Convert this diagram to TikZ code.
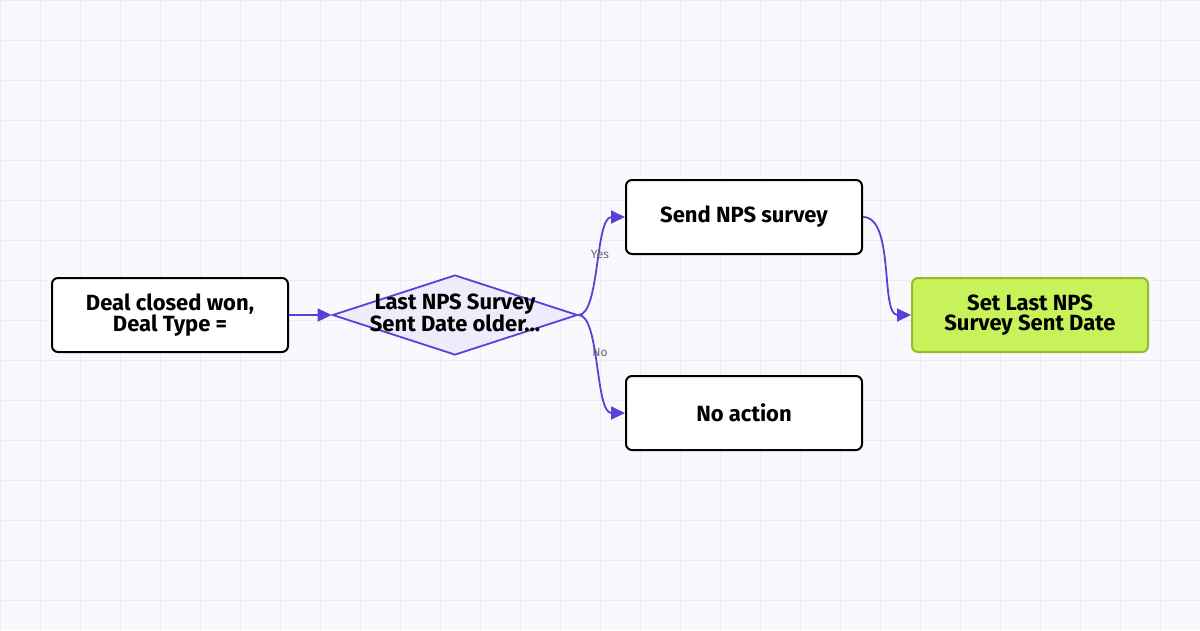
\documentclass[tikz,border=0pt]{standalone}
\usepackage{fontspec}
\setmainfont{Fira Sans}
\usetikzlibrary{shapes.geometric,arrows.meta}
\definecolor{bg}{HTML}{F9F9FD}
\definecolor{gridc}{HTML}{ECEBF8}
\definecolor{purp}{HTML}{5B3FD9}
\definecolor{dfill}{HTML}{EEEBFB}
\definecolor{gfill}{HTML}{C8F25A}
\definecolor{gdraw}{HTML}{96B92E}
\definecolor{lbl}{HTML}{666670}
\begin{document}
\begin{tikzpicture}[x=1pt,y=-1pt,
 box/.style={draw=black,line width=2pt,rounded corners=6pt,fill=white,minimum width=236pt,minimum height=74pt,align=center,font=\fontsize{22}{20}\selectfont\bfseries,inner sep=0pt},
 con/.style={draw=purp,line width=1.8pt,-{Triangle[length=14pt,width=13pt]},shorten >=0pt},
 lab/.style={font=\fontsize{12}{12}\selectfont,text=lbl}]
\fill[bg] (0,0) rectangle (1200,630);
\useasboundingbox (0,0) rectangle (1200,630);
\foreach \x in {0,40,...,1200} \draw[gridc,line width=1pt] (\x,0) -- (\x,630);
\foreach \y in {0,40,...,600} \draw[gridc,line width=1pt] (0,\y) -- (1200,\y);
\node[box] (a) at (170,315) {Deal closed won,\\Deal Type =};
\node[draw=purp,line width=1.8pt,fill=dfill,diamond,aspect=3.06,minimum width=245pt,minimum height=80pt,inner sep=0pt] (d) at (455,315) {};
\node[align=center,font=\fontsize{22}{20}\selectfont\bfseries] (dt) at (455,313) {Last NPS Survey\\Sent Date older...};
\node[box] (s) at (744,217) {Send NPS survey};
\node[box] (n) at (744,413) {No action};
\node[box,fill=gfill,draw=gdraw] (t) at (1030,315) {Set Last NPS\\Survey Sent Date};
\draw[con] (a.east) -- (d.west);
\draw[con] (d.east) .. controls (600,315) and (595,217) .. (s.west);
\draw[con] (d.east) .. controls (600,315) and (595,413) .. (n.west);
\draw[con] (s.east) .. controls (895,217) and (880,315) .. (t.west);
\node[lab] (yes) at (600,254) {Yes};
\node[lab] (no) at (600,352) {No};
\end{tikzpicture}
\end{document}
